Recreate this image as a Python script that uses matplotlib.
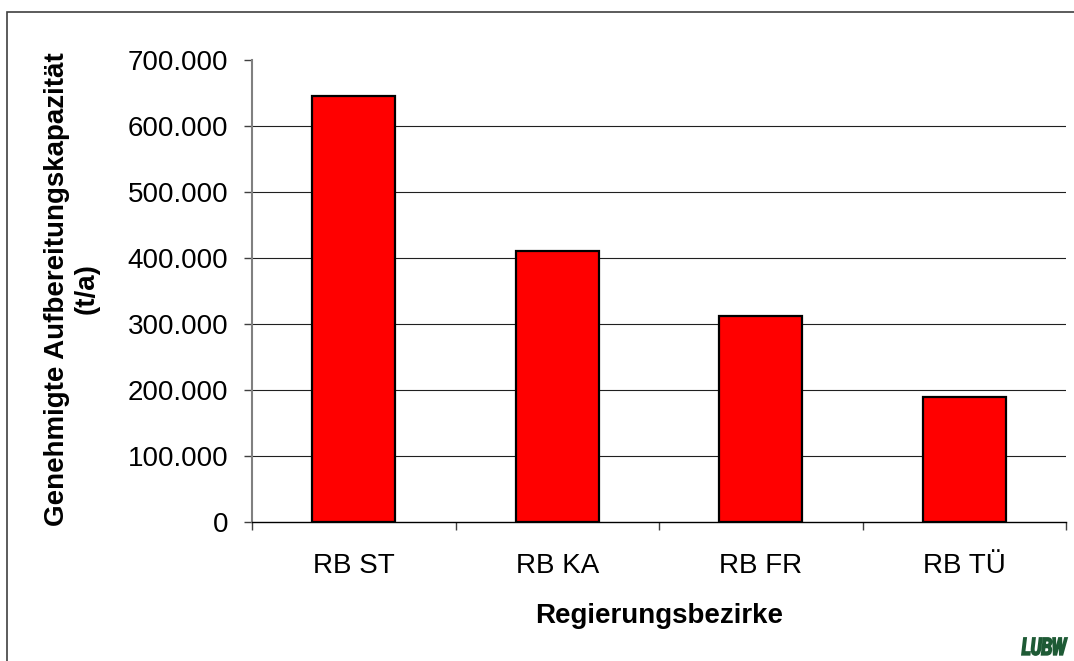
import matplotlib
matplotlib.use("Agg")
import matplotlib.pyplot as plt
from matplotlib.patches import Rectangle, PathPatch
from matplotlib.textpath import TextPath
from matplotlib.font_manager import FontProperties
from matplotlib.transforms import Affine2D
from matplotlib.ticker import FuncFormatter

# =============================
# DATA
# =============================
categories = ["RB ST", "RB KA", "RB FR", "RB TÜ"]
capacity   = [645000, 411000, 312000, 190000]
y_ticks    = [0, 100000, 200000, 300000, 400000, 500000, 600000, 700000]
grid_vals  = [100000, 200000, 300000, 400000, 500000, 600000]

ylabel = "Genehmigte Aufbereitungskapazität\n(t/a)"
xlabel = "Regierungsbezirke"

W, H = 1074, 661
plt.rcParams['font.family'] = ['Liberation Sans', 'DejaVu Sans']

fig = plt.figure(figsize=(W / 100, H / 100), dpi=100, facecolor='white')

# outer chart frame (runs off right / bottom edge like the original)
fig.patches.append(Rectangle((7 / W, -0.05), 1.2, 1 - 12 / H + 0.05,
                             transform=fig.transFigure, fill=False,
                             edgecolor='#404040', linewidth=1.2))

ax = fig.add_axes([252 / W, 1 - 522 / H, (1066 - 252) / W, (522 - 60) / H])

x = list(range(len(categories)))
ax.bar(x, capacity, width=0.41, color='#FF0000', edgecolor='black',
       linewidth=1.6, zorder=3)

ax.hlines(grid_vals, -0.5, len(categories) - 0.5, color='#202020',
          linewidth=0.8, zorder=1)

ax.set_xlim(-0.5, len(categories) - 0.5)
ax.set_ylim(0, 700000)

ax.set_yticks(y_ticks)
ax.yaxis.set_major_formatter(FuncFormatter(lambda v, p: f"{int(v):,}".replace(",", ".")))
ax.tick_params(axis='y', length=6, width=1, color='#404040', pad=11,
               labelsize=20)

ax.set_xticks(x)
ax.set_xticklabels(categories)
ax.set_xticks([i - 0.5 for i in range(len(categories) + 1)], minor=True)
ax.tick_params(axis='x', which='major', length=0, pad=22, labelsize=20)
ax.tick_params(axis='x', which='minor', length=6, width=1, color='#404040')

for side in ['top', 'right']:
    ax.spines[side].set_visible(False)
ax.spines['left'].set_color('#808080')
ax.spines['left'].set_linewidth(1.5)
ax.spines['bottom'].set_color('black')
ax.spines['bottom'].set_linewidth(1.0)

fig.text(72 / W, 1 - 289 / H, ylabel, rotation=90, ha='center', va='center',
         fontsize=20, fontweight='bold', multialignment='center')
fig.text(659 / W, 1 - 623 / H, xlabel, ha='center', va='baseline',
         fontsize=20, fontweight='bold')

# LUBW logo - condensed heavy italic, squeezed into its little box
fp = FontProperties(family='Liberation Sans', weight='bold', style='italic')
logo = TextPath((0, 0), "LUBW", size=1, prop=fp)
ext = logo.get_extents()
sx = 45 / ext.width
sy = 17 / ext.height
logo_tr = (Affine2D().translate(-ext.x0, -ext.y0).scale(sx, sy)
           .translate(1022, H - 655).scale(1 / W, 1 / H) + fig.transFigure)
fig.patches.append(PathPatch(logo, transform=logo_tr, facecolor='#1E5A35',
                             edgecolor='#1E5A35', linewidth=1.3))

fig.savefig("out.png", dpi=100, facecolor='white')
